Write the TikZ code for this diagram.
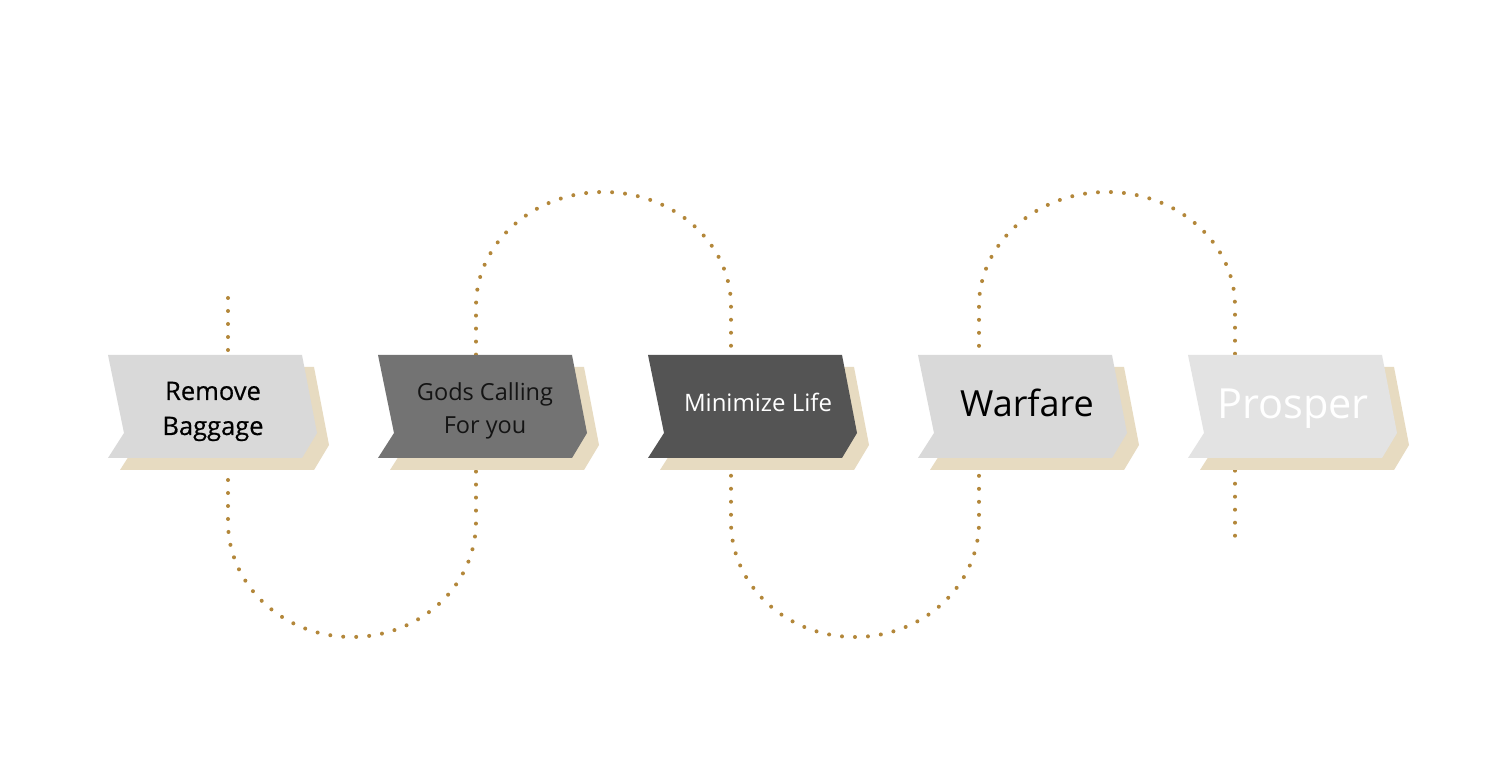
\documentclass[tikz,border=0pt]{standalone}
\usepackage{fontspec}
\setmainfont{Open Sans}
\newfontfamily\semibold{Open Sans}[FakeBold=0.5]
\definecolor{dotc}{HTML}{B3873A}
\definecolor{shadowc}{HTML}{E7DBC1}
\definecolor{boxa}{HTML}{D9D9D9}
\definecolor{boxb}{HTML}{737373}
\definecolor{boxc}{HTML}{545454}
\definecolor{boxd}{HTML}{D9D9D9}
\definecolor{boxe}{HTML}{E3E3E3}
\tikzset{
  dotline/.style={draw=dotc, line width=4pt, line cap=round, dash pattern=on 0pt off 13pt},
  label/.style={inner sep=0pt, align=center, anchor=base}
}
\begin{document}
\begin{tikzpicture}[x=1pt,y=1pt]
\useasboundingbox (0,0) rectangle (1500,771);
\fill[white] (0,0) rectangle (1500,771);
% dotted serpentine connector
\coordinate (start) at (228,473);
\coordinate (finish) at (1235,235);
\path[dotline] (start) -- (228,249)
  arc[start angle=180, end angle=360, x radius=124, y radius=115] -- (476,465)
  arc[start angle=180, end angle=0, x radius=127.5, y radius=114] -- (731,249)
  arc[start angle=180, end angle=360, x radius=124, y radius=115] -- (979,465)
  arc[start angle=180, end angle=0, x radius=128, y radius=114] -- (finish);
% chevrons
\foreach \L/\c in {108/boxa,378/boxb,648/boxc,918/boxd,1188/boxe}{
  \fill[shadowc] (\L+12,404) -- (\L+206,404) -- (\L+221,326) -- (\L+206,301) -- (\L+12,301) -- (\L+28,326) -- cycle;
  \fill[\c] (\L,416) -- (\L+194,416) -- (\L+209,338) -- (\L+194,313) -- (\L,313) -- (\L+16,338) -- cycle;
}
% labels
\node[label, font=\semibold\fontsize{25.5}{35}\selectfont, text=black] (t1) at (213,336) {Remove\\Baggage};
\node[label, font=\fontsize{23.5}{33}\selectfont, text=black!92] (t2) at (485,337) {Gods Calling\\For you};
\node[label, font=\fontsize{24}{30}\selectfont, text=white] (t3) at (758,359) {Minimize Life};
\node[label, font=\fontsize{36}{40}\selectfont, text=black] (t4) at (1027,354) {Warfare};
\node[label, font=\fontsize{41.5}{46}\selectfont, text=white] (t5) at (1293,352) {Prosper};
\end{tikzpicture}
\end{document}
